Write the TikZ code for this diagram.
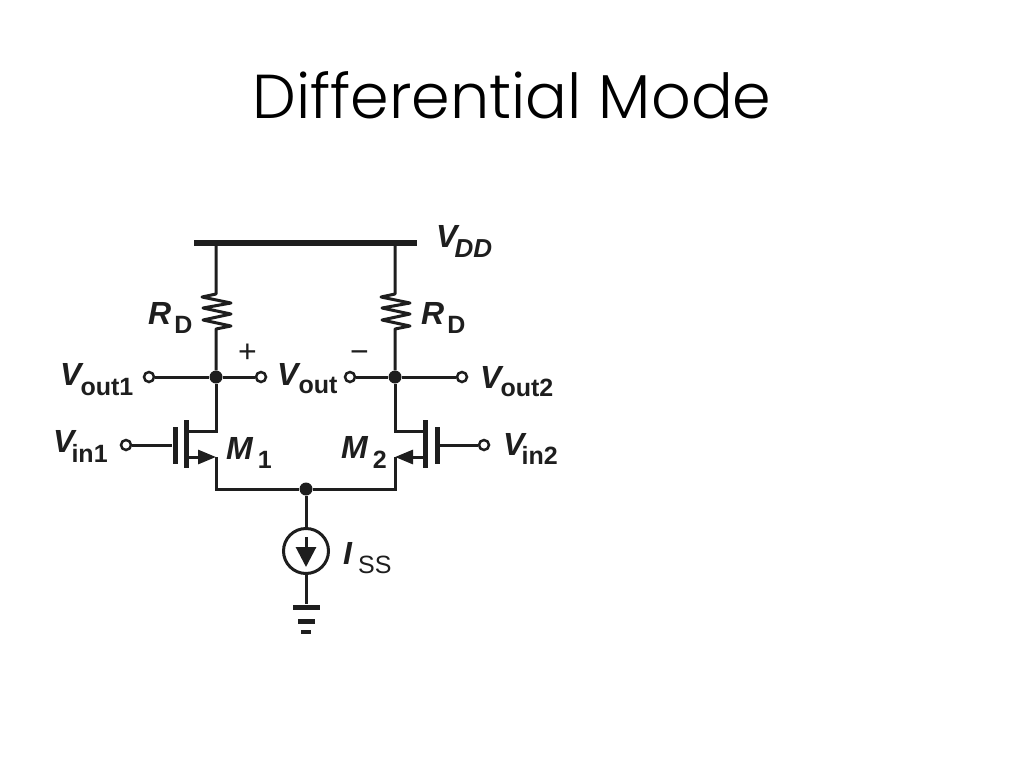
\documentclass[tikz,border=0pt]{standalone}
\usepackage{fontspec}
\usepackage{xcolor}
\usetikzlibrary{arrows.meta}
\setmainfont{Liberation Sans}
\newfontfamily\titlefont{Poppins}[UprightFont=* Light]
\definecolor{ink}{HTML}{1E1E1E}
\tikzstyle{joint} = [coordinate]
\tikzstyle{wire} = [draw=ink, line width=3pt]
\tikzstyle{bar} = [fill=ink, rectangle, inner sep=0pt]
\tikzstyle{dot} = [fill=ink, circle, inner sep=0pt, minimum size=13pt]
\tikzstyle{term} = [draw=ink, fill=white, circle, line width=2.5pt, inner sep=0pt, minimum size=10pt]
\tikzstyle{lab} = [anchor=base west, inner sep=0pt, text=ink]
\tikzstyle{head} = [-{Triangle[length=18pt,width=14pt]}]
\newcommand{\bigit}[1]{{\fontsize{32}{32}\selectfont\bfseries\itshape #1}}
\newcommand{\low}[2]{\raisebox{-#1pt}{\fontsize{25}{25}\selectfont\bfseries #2}}

\begin{document}
\begin{tikzpicture}[x=1pt, y=-1pt, node distance=45pt]
	\useasboundingbox (0,0) rectangle (1024,768);
	\node [anchor=base, inner sep=0pt, text=black] (title) at (512,118)
	{\titlefont\fontsize{62}{62}\selectfont Differential Mode};

	% We start by placing the two output dots and the tail
	\node [dot] (out1) at (216,377) {};
	\node [dot, right of=out1, node distance=179pt] (out2) {};
	\node [dot] (tail) at (306,489) {};
	\node [bar, minimum width=223pt, minimum height=6pt] (rail) at (305.5,243) {};

	% Output terminals
	\node [term, left of=out1, node distance=67pt] (vout1) {};
	\node [term, right of=out1] (voutp) {};
	\node [term, left of=out2] (voutn) {};
	\node [term, right of=out2, node distance=67pt] (vout2) {};

	% Resistor ends, above the outputs
	\node [joint, above of=out1, node distance=83pt] (res1t) {};
	\node [joint, above of=out1, node distance=48pt] (res1b) {};
	\node [joint, above of=out2, node distance=83pt] (res2t) {};
	\node [joint, above of=out2, node distance=48pt] (res2b) {};

	% Transistor M1
	\node [joint, below of=out1, node distance=54pt] (drain1) {};
	\node [joint, below of=out1, node distance=80pt] (src1) {};
	\node [bar, minimum width=5pt, minimum height=48pt] (ch1) at (186,444) {};
	\node [bar, minimum width=5pt, minimum height=37pt] (gate1) at (175,445) {};
	\node [term, left of=gate1, node distance=49pt] (vin1) {};

	% Transistor M2
	\node [joint, below of=out2, node distance=54pt] (drain2) {};
	\node [joint, below of=out2, node distance=80pt] (src2) {};
	\node [bar, minimum width=5pt, minimum height=48pt] (ch2) at (425,444) {};
	\node [bar, minimum width=5pt, minimum height=37pt] (gate2) at (437,445) {};
	\node [term, right of=gate2, node distance=47pt] (vin2) {};

	% Current source and ground
	\node [draw=ink, circle, line width=3pt, inner sep=0pt, minimum size=45pt,
	below of=tail, node distance=62pt] (iss) {};
	\node [joint, above of=iss, node distance=14pt] (isst) {};
	\node [joint, below of=iss, node distance=16pt] (issb) {};
	\node [bar, minimum width=27pt, minimum height=5pt, below of=iss, node distance=56pt] (gnd1) {};
	\node [bar, minimum width=17pt, minimum height=5pt, below of=gnd1, node distance=14pt] (gnd2) {};
	\node [bar, minimum width=10pt, minimum height=4pt, below of=gnd2, node distance=11pt] (gnd3) {};

	% Once the nodes are placed, connecting them is easy.
	\draw [wire, line join=round] (out1 |- rail) -- (res1t) -- ++(-14,3) -- ++(29,6) -- ++(-28,5)
	-- ++(28,6) -- ++(-28,6) -- ++(28,6) -- (res1b) -- (out1);
	\draw [wire, line join=round] (out2 |- rail) -- (res2t) -- ++(-14,3) -- ++(29,6) -- ++(-28,5)
	-- ++(28,6) -- ++(-28,6) -- ++(28,6) -- (res2b) -- (out2);
	\draw [wire] (vout1) -- (out1);
	\draw [wire] (out1) -- (voutp);
	\draw [wire] (voutn) -- (out2);
	\draw [wire] (out2) -- (vout2);
	\draw [wire] (out1) |- (ch1 |- drain1);
	\draw [wire] (out2) |- (ch2 |- drain2);
	\draw [wire] (vin1) -- (gate1);
	\draw [wire] (vin2) -- (gate2);
	\draw [wire, head] (ch1 |- src1) -- (src1);
	\draw [wire, head] (ch2 |- src2) -- (src2);
	\draw [wire] (src1) |- (tail);
	\draw [wire] (src2) |- (tail);
	\draw [wire] (tail) -- (iss);
	\draw [wire] (iss) -- (gnd1);
	\draw [wire, -{Triangle[length=20pt,width=20pt]}] (isst) -- (issb);

	% Labels
	\node [lab] (vddlab) at (436,247) {\bigit{V}\hspace{-3pt}\raisebox{-10pt}{\fontsize{26}{26}\selectfont\bfseries\itshape DD}};
	\node [lab] (rd1lab) at (148,324) {\bigit{R}\hspace{3pt}\low{9}{D}};
	\node [lab] (rd2lab) at (421,324) {\bigit{R}\hspace{3pt}\low{9}{D}};
	\node [lab] (plus) at (238,362) {\fontsize{32}{32}\selectfont +};
	\node [lab] (minus) at (350,362) {\fontsize{32}{32}\selectfont −};
	\node [lab] (vout1lab) at (60,385) {\bigit{V}\hspace{-1pt}\low{10}{out1}};
	\node [lab] (voutlab) at (277,385) {\bigit{V}\low{8}{out}};
	\node [lab] (vout2lab) at (480,388) {\bigit{V}\hspace{-1pt}\low{8}{out2}};
	\node [lab] (vin1lab) at (53,452) {\bigit{V}\hspace{-3pt}\low{10}{in1}};
	\node [lab] (vin2lab) at (503,455) {\bigit{V}\hspace{-3pt}\low{9}{in2}};
	\node [lab] (m1lab) at (226,459) {\bigit{M}\hspace{5pt}\low{9}{1}};
	\node [lab] (m2lab) at (341,458) {\bigit{M}\hspace{5pt}\low{10}{2}};
	\node [lab] (isslab) at (343,564) {\bigit{I}\hspace{6pt}\raisebox{-9pt}{\fontsize{25}{25}\selectfont SS}};
\end{tikzpicture}
\end{document}
